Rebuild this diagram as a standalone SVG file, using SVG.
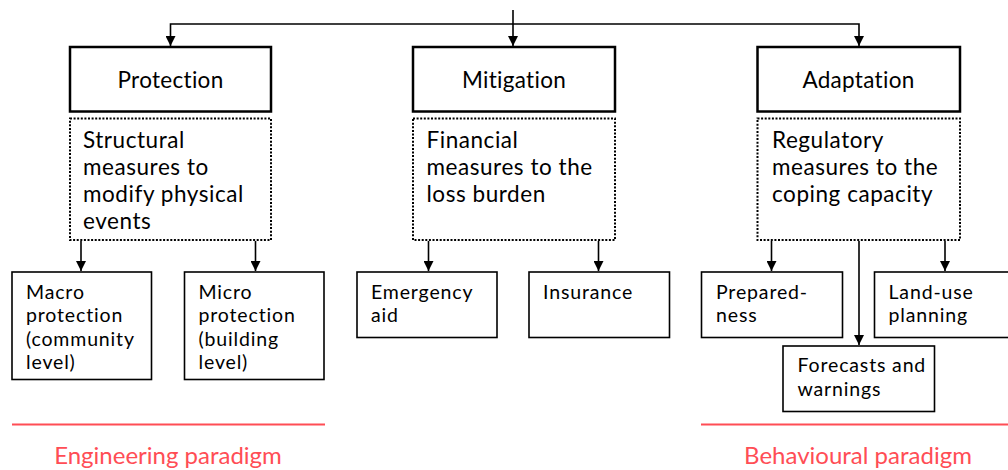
<svg xmlns="http://www.w3.org/2000/svg" width="1008" height="470" viewBox="0 0 1008 470">
  <style>
    text { font-family: Lato, "Open Sans", sans-serif; fill: #000; }
    .head { fill: #fff; stroke: #000; stroke-width: 2.5; }
    .note { fill: none; stroke: #000; stroke-width: 2; stroke-dasharray: 2 1.6; }
    .leaf { fill: #fff; stroke: #000; stroke-width: 1.6; }
    .ht { font-size: 22.5px; letter-spacing: 0.3px; text-anchor: middle; }
    .nt { font-size: 22.5px; letter-spacing: 0.55px; }
    .lt { font-size: 19.5px; letter-spacing: 0.85px; }
    .edge { fill: none; stroke: #000; stroke-width: 1.6; }
    .rule { stroke: #ff4d55; stroke-width: 2; }
    .para { font-size: 24px; fill: #ff4d55; text-anchor: middle; }
  </style>
  <defs>
    <marker id="arr" viewBox="0 0 10 10" refX="10" refY="5" markerWidth="10" markerHeight="10" markerUnits="userSpaceOnUse" orient="auto">
      <path d="M0,0 L10,5 L0,10 z" fill="#000"/>
    </marker>
  </defs>

  <!-- connectors -->
  <g id="connectors">
    <path class="edge" d="M513,10 V24"/>
    <path class="edge" d="M513,24 H170.5 V46" marker-end="url(#arr)"/>
    <path class="edge" d="M513,24 V46" marker-end="url(#arr)"/>
    <path class="edge" d="M513,24 H859 V46" marker-end="url(#arr)"/>
    <path class="edge" d="M81,241 V271" marker-end="url(#arr)"/>
    <path class="edge" d="M255.5,241 V271" marker-end="url(#arr)"/>
    <path class="edge" d="M428.5,241 V271" marker-end="url(#arr)"/>
    <path class="edge" d="M598.5,241 V271" marker-end="url(#arr)"/>
    <path class="edge" d="M771.5,241 V271" marker-end="url(#arr)"/>
    <path class="edge" d="M945,241 V271" marker-end="url(#arr)"/>
    <path class="edge" d="M859,241 V345" marker-end="url(#arr)"/>
  </g>

  <!-- top-level categories -->
  <g id="protection">
    <rect class="head" x="70" y="47" width="201" height="64.5"/>
    <text class="ht" x="170.5" y="87.5">Protection</text>
  </g>
  <g id="mitigation">
    <rect class="head" x="413" y="47" width="202" height="64.5"/>
    <text class="ht" x="514" y="87.5">Mitigation</text>
  </g>
  <g id="adaptation">
    <rect class="head" x="757.5" y="47" width="202.5" height="64.5"/>
    <text class="ht" x="858.5" y="87.5">Adaptation</text>
  </g>

  <!-- measure descriptions -->
  <g id="structural">
    <rect class="note" x="70" y="118.5" width="201" height="121.5"/>
    <text class="nt" x="83" y="148">Structural</text>
    <text class="nt" x="83" y="175">measures to</text>
    <text class="nt" x="83" y="202">modify physical</text>
    <text class="nt" x="83" y="229">events</text>
  </g>
  <g id="financial">
    <rect class="note" x="413" y="118.5" width="202" height="121.5"/>
    <text class="nt" x="426.5" y="148">Financial</text>
    <text class="nt" x="426.5" y="175">measures to the</text>
    <text class="nt" x="426.5" y="202">loss burden</text>
  </g>
  <g id="regulatory">
    <rect class="note" x="757.5" y="118.5" width="202.5" height="121.5"/>
    <text class="nt" x="772" y="148">Regulatory</text>
    <text class="nt" x="772" y="175">measures to the</text>
    <text class="nt" x="772" y="202">coping capacity</text>
  </g>

  <!-- individual measures -->
  <g id="macro">
    <rect class="leaf" x="12" y="272" width="139.5" height="107.5"/>
    <text class="lt" x="26" y="298.5">Macro</text>
    <text class="lt" x="26" y="322">protection</text>
    <text class="lt" x="26" y="345.5">(community</text>
    <text class="lt" x="26" y="369">level)</text>
  </g>
  <g id="micro">
    <rect class="leaf" x="184.5" y="272" width="139.5" height="107.5"/>
    <text class="lt" x="198.5" y="298.5">Micro</text>
    <text class="lt" x="198.5" y="322">protection</text>
    <text class="lt" x="198.5" y="345.5">(building</text>
    <text class="lt" x="198.5" y="369">level)</text>
  </g>
  <g id="emergency">
    <rect class="leaf" x="357" y="272" width="140" height="65.5"/>
    <text class="lt" x="371" y="298.5">Emergency</text>
    <text class="lt" x="371" y="322">aid</text>
  </g>
  <g id="insurance">
    <rect class="leaf" x="529" y="272" width="140.5" height="65.5"/>
    <text class="lt" x="543" y="298.5">Insurance</text>
  </g>
  <g id="preparedness">
    <rect class="leaf" x="701.5" y="272" width="141" height="65.5"/>
    <text class="lt" x="716" y="298.5">Prepared-</text>
    <text class="lt" x="716" y="322">ness</text>
  </g>
  <g id="landuse">
    <rect class="leaf" x="874.5" y="272" width="140" height="65.5"/>
    <text class="lt" x="888.5" y="298.5">Land-use</text>
    <text class="lt" x="888.5" y="322">planning</text>
  </g>
  <g id="forecasts">
    <rect class="leaf" x="783" y="346" width="151.5" height="65.5"/>
    <text class="lt" x="797.5" y="372">Forecasts and</text>
    <text class="lt" x="797.5" y="395.5">warnings</text>
  </g>

  <!-- paradigm labels -->
  <g id="engineering">
    <line class="rule" x1="12" y1="424.5" x2="325" y2="424.5"/>
    <text class="para" x="168" y="463.5">Engineering paradigm</text>
  </g>
  <g id="behavioural">
    <line class="rule" x1="701" y1="424.5" x2="1008" y2="424.5"/>
    <text class="para" x="858" y="463.5">Behavioural paradigm</text>
  </g>
</svg>
